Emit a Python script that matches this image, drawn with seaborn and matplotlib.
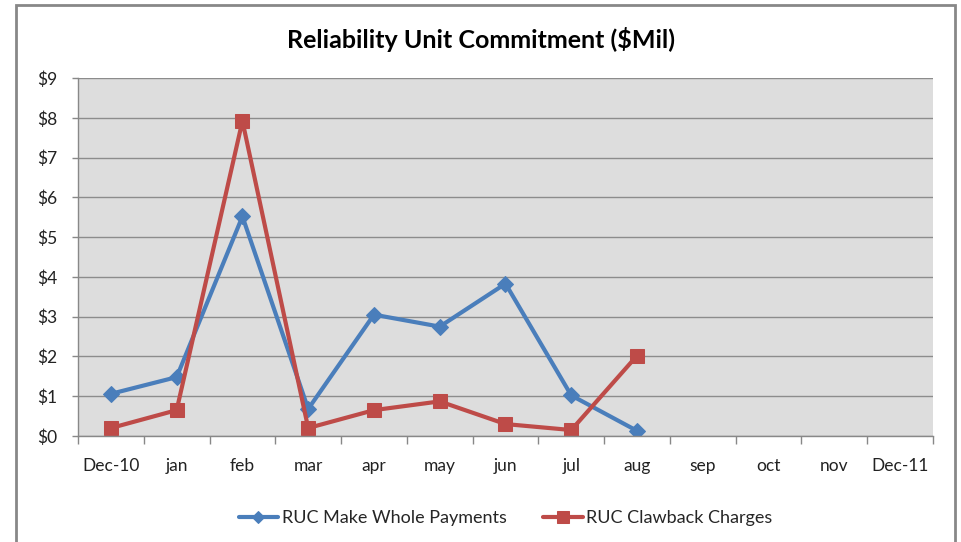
import numpy as np
import pandas as pd
import matplotlib.pyplot as plt
import seaborn as sns
from matplotlib.patches import Rectangle
from matplotlib.ticker import FixedLocator

months = ['Dec-10', 'jan', 'feb', 'mar', 'apr', 'may', 'jun', 'jul', 'aug',
          'sep', 'oct', 'nov', 'Dec-11']
make_whole = [1.06, 1.48, 5.52, 0.68, 3.05, 2.75, 3.83, 1.02, 0.13,
              np.nan, np.nan, np.nan, np.nan]
clawback = [0.20, 0.65, 7.92, 0.20, 0.65, 0.87, 0.30, 0.15, 2.02,
            np.nan, np.nan, np.nan, np.nan]
y_ticks = list(range(0, 10))

sns.set_theme(style="white")
plt.rcParams['font.family'] = ['Lato', 'DejaVu Sans']

pos = np.arange(len(months))
df = pd.DataFrame({'pos': pos, 'RUC Make Whole Payments': make_whole,
                   'RUC Clawback Charges': clawback})

fig = plt.figure(figsize=(9.62, 5.42), dpi=100)
ax = fig.add_axes([78 / 962, 1 - 436 / 542, (933 - 78) / 962, (436 - 78) / 542])
ax.set_facecolor('#DDDDDD')

sns.lineplot(data=df, x='pos', y='RUC Make Whole Payments', ax=ax,
             color='#4A7EBB', lw=3, marker='D', markersize=8,
             markeredgecolor='#4A7EBB', label='RUC Make Whole Payments')
sns.lineplot(data=df, x='pos', y='RUC Clawback Charges', ax=ax,
             color='#BE4B48', lw=3, marker='s', markersize=10,
             markeredgecolor='#BE4B48', label='RUC Clawback Charges')

ax.set_xlim(-0.5, len(months) - 0.5)
ax.set_ylim(0, 9)
ax.set_yticks(y_ticks)
ax.set_yticklabels([f'${v}' for v in y_ticks])
ax.set_xticks(pos)
ax.set_xticklabels(months)
ax.xaxis.set_minor_locator(FixedLocator(np.arange(-0.5, len(months), 1.0)))
ax.tick_params(axis='x', which='major', length=0, pad=16, labelsize=12.5, colors='#222222')
ax.tick_params(axis='x', which='minor', length=6, color='#888888', width=1, bottom=True)
ax.tick_params(axis='y', length=4, color='#888888', width=1, left=True, labelsize=12.5,
               colors='#222222', pad=11)
ax.yaxis.grid(True, color='#8C8C8C', lw=1)
ax.set_axisbelow(True)
for s in ['top', 'right']:
    ax.spines[s].set_visible(False)
for s in ['left', 'bottom']:
    ax.spines[s].set_color('#888888')
    ax.spines[s].set_linewidth(1)
ax.set_xlabel('')
ax.set_ylabel('')

ax.legend(loc='center', bbox_to_anchor=(0.5, 1 - (518 - 78) / (436 - 78)), ncol=2,
          frameon=False, fontsize=13, handlelength=2.2, columnspacing=2.0,
          handletextpad=0.2, markerscale=0.8)

fig.text(0.5, 1 - 40 / 542, 'Reliability Unit Commitment ($Mil)', ha='center', va='center',
         fontsize=18, fontweight='bold', color='#000000')

fig.patches.append(Rectangle((16 / 962, -0.01), (955 - 16) / 962, 1 - 5 / 542 + 0.01,
                             transform=fig.transFigure, fill=False,
                             edgecolor='#888888', lw=2))

fig.savefig('out.png', dpi=100)
